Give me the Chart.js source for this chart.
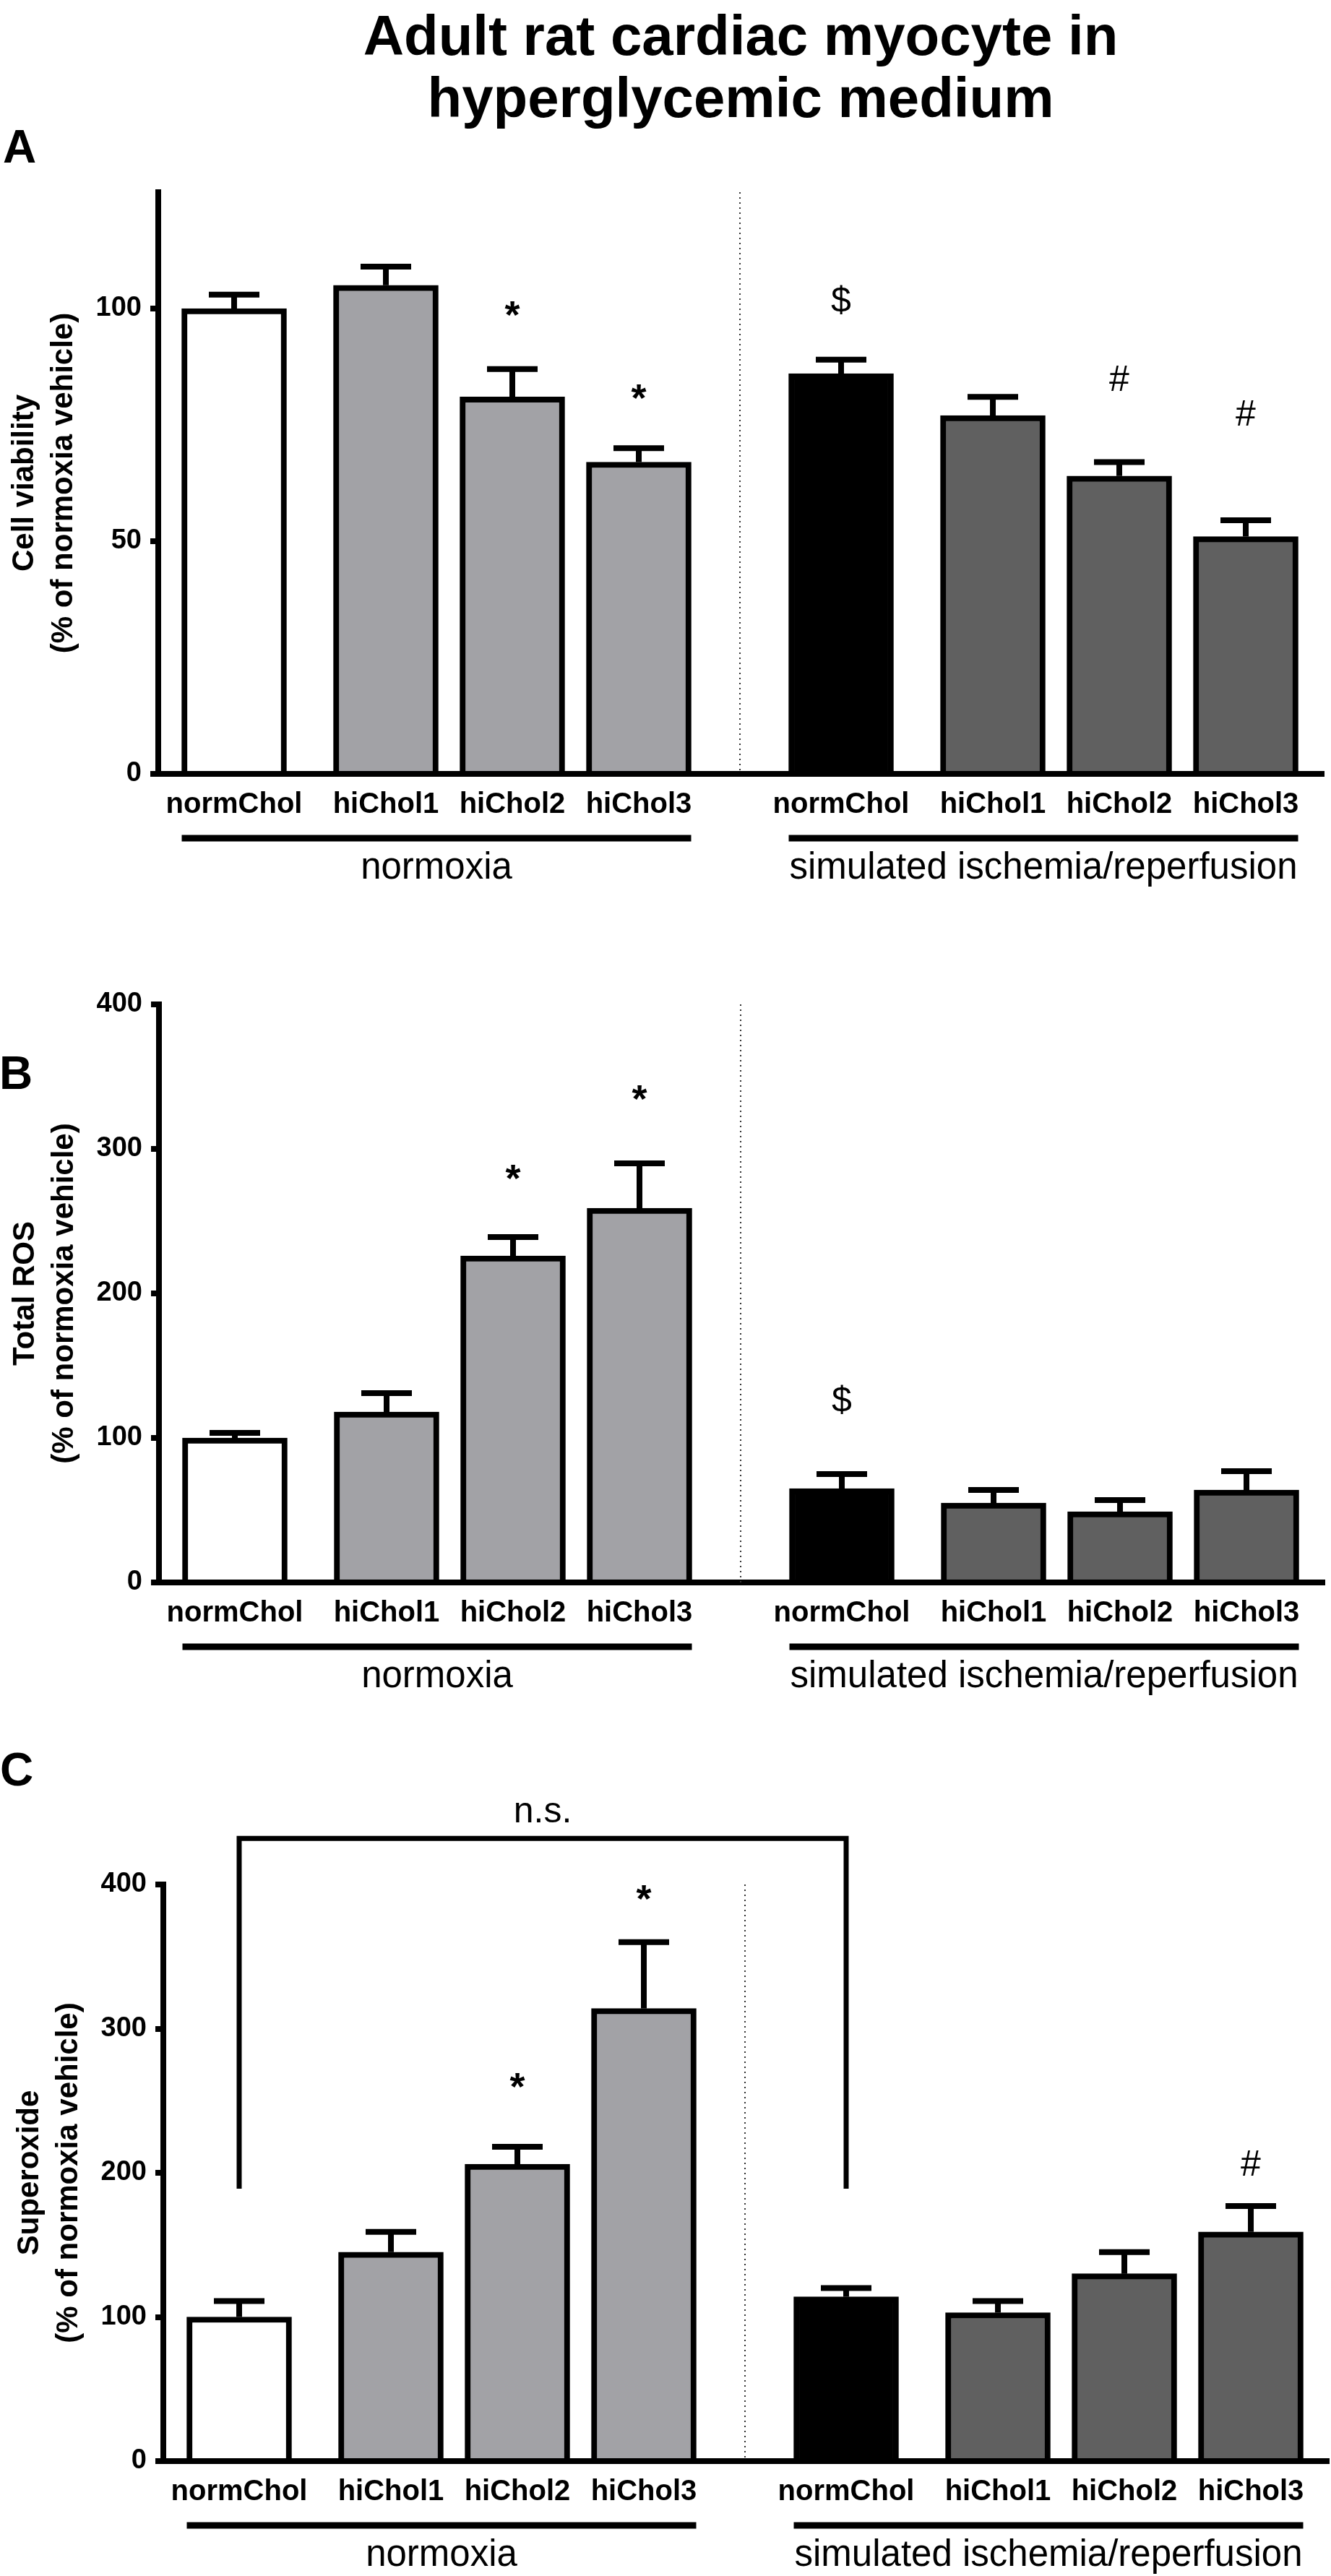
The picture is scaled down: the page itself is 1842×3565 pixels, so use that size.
<!DOCTYPE html>
<html>
<head>
<meta charset="utf-8">
<title>Adult rat cardiac myocyte in hyperglycemic medium</title>
<script src="https://cdn.jsdelivr.net/npm/chart.js@4.4.1/dist/chart.umd.min.js"></script>
<style>
  html, body { margin: 0; padding: 0; background: #fff; }
  body { width: 1842px; height: 3565px; position: relative; overflow: hidden;
         font-family: "Liberation Sans", Arial, sans-serif; color: #000; }
  .title { position: absolute; left: 25px; top: 6px; width: 2000px; text-align: center;
           font-weight: bold; font-size: 78px; line-height: 86px; }
  .letter { position: absolute; font-weight: bold; font-size: 64px; line-height: 64px; }
  .panel { position: absolute; width: 1835px; }
</style>
</head>
<body>

<div class="title">Adult rat cardiac myocyte in<br>hyperglycemic medium</div>
<div class="letter" style="left:4px;top:171px">A</div>
<div class="letter" style="left:-1px;top:1453px">B</div>
<div class="letter" style="left:0px;top:2417px">C</div>

<div class="panel" style="left:0px;top:216px;height:1013px"><canvas id="chart-a"></canvas></div>
<div class="panel" style="left:1px;top:1340px;height:1008px"><canvas id="chart-b"></canvas></div>
<div class="panel" style="left:7px;top:2458px;height:1106px"><canvas id="chart-c"></canvas></div>

<script>
// bar names, left to right
const categories = ['normChol', 'hiChol1', 'hiChol2', 'hiChol3', 'normChol', 'hiChol1', 'hiChol2', 'hiChol3'];
// the two groups under the bars
const groupNames = ['normoxia', 'simulated ischemia/reperfusion'];
const groupFirst = [0, 4];
const groupLast = [3, 7];

// A - cell viability (mean, sem)
const viabilityMean = [100, 105, 81, 67, 86, 77, 64, 51];
const viabilitySem = [3, 4, 6, 3, 3, 4, 3, 3.5];
const viabilityTicks = [0, 50, 100];
const viabilityMarks = ['', '', '*', '*', '$', '', '#', '#'];
const viabilityMarkAt = [0, 0, 100, 82, 102, 0, 85, 77.5];

// B - total ROS
const rosMean = [100, 118, 226, 259, 65, 55, 49, 64];
const rosSem = [3.5, 13, 13, 31, 10, 9, 8, 13];
const rosTicks = [0, 100, 200, 300, 400];
const rosMarks = ['', '', '*', '*', '$', '', '', ''];
const rosMarkAt = [0, 0, 284, 339, 127, 0, 0, 0];

// C - superoxide
const superoxideMean = [100, 145, 206, 314, 114, 103, 130, 159];
const superoxideSem = [11, 14, 12, 46, 6, 8, 15, 18];
const superoxideTicks = [0, 100, 200, 300, 400];
const superoxideMarks = ['', '', '*', '*', '', '', '', '#'];
const superoxideMarkAt = [0, 0, 264, 394, 0, 0, 0, 207];
// n.s. bracket between the two normChol bars
const bracketBars = [0, 4];
const bracketTop = 432;
const bracketFoot = 189;
const bracketText = 'n.s.';
const bracketTextAt = 443;


// slots on the x axis (normChol sits a bit apart from the hiChol bars)
const barSlots = [0, 1.2, 2.2, 3.2, 4.8, 6.0, 7.0, 8.0];
const dividerSlot = 4.0;
const BAR_W = 145;

const fillColors = ['#ffffff', '#a2a2a6', '#a2a2a6', '#a2a2a6', '#000000', '#606060', '#606060', '#606060'];

Chart.defaults.font.family = '"Liberation Sans", Arial, sans-serif';
Chart.defaults.color = '#000';


// draws whiskers, symbols, divider, group bars, bracket
function extrasPlugin(means, sems, marks, markAt, withBracket) {
  return {
    id: 'extras',
    afterDatasetsDraw(chart) {
      const { ctx, chartArea } = chart;
      const x = chart.scales.x, y = chart.scales.y;
      ctx.save();
      // dotted divider between the groups
      ctx.strokeStyle = '#333';
      ctx.lineWidth = 2;
      ctx.setLineDash([2, 5]);
      const dx = x.getPixelForValue(dividerSlot);
      ctx.beginPath();
      ctx.moveTo(dx, chartArea.top);
      ctx.lineTo(dx, chartArea.bottom);
      ctx.stroke();
      ctx.setLineDash([]);
      // upper error bars
      ctx.strokeStyle = '#000';
      ctx.lineWidth = 8;
      ctx.lineCap = 'butt';
      for (let i = 0; i < means.length; i++) {
        const px = x.getPixelForValue(barSlots[i]);
        const y0 = y.getPixelForValue(means[i]);
        const y1 = y.getPixelForValue(means[i] + sems[i]);
        ctx.beginPath();
        ctx.moveTo(px, y0);
        ctx.lineTo(px, y1);
        ctx.moveTo(px - 35, y1);
        ctx.lineTo(px + 35, y1);
        ctx.stroke();
      }
      ctx.restore();
    },
    afterDraw(chart) {
      const { ctx, chartArea } = chart;
      const x = chart.scales.x, y = chart.scales.y;
      ctx.save();
      ctx.fillStyle = '#000';
      ctx.strokeStyle = '#000';
      ctx.textAlign = 'center';
      ctx.textBaseline = 'alphabetic';
      // significance symbols, centred on their level
      for (let i = 0; i < marks.length; i++) {
        if (!marks[i]) continue;
        ctx.font = marks[i] === '*'
          ? 'bold 54px "Liberation Sans", Arial, sans-serif'
          : '50px "Liberation Sans", Arial, sans-serif';
        const m = ctx.measureText(marks[i]);
        const yc = y.getPixelForValue(markAt[i]);
        ctx.fillText(marks[i], x.getPixelForValue(barSlots[i]),
          yc + (m.actualBoundingBoxAscent - m.actualBoundingBoxDescent) / 2);
      }
      // group underline + name
      ctx.lineWidth = 9;
      ctx.font = '51px "Liberation Sans", Arial, sans-serif';
      for (let g = 0; g < groupNames.length; g++) {
        const x1 = x.getPixelForValue(barSlots[groupFirst[g]]) - BAR_W / 2;
        const x2 = x.getPixelForValue(barSlots[groupLast[g]]) + BAR_W / 2;
        ctx.beginPath();
        ctx.moveTo(x1, chartArea.bottom + 89);
        ctx.lineTo(x2, chartArea.bottom + 89);
        ctx.stroke();
        ctx.fillText(groupNames[g], (x1 + x2) / 2, chartArea.bottom + 145);
      }
      // n.s. bracket (panel C only)
      if (withBracket) {
        const bx1 = x.getPixelForValue(barSlots[bracketBars[0]]);
        const bx2 = x.getPixelForValue(barSlots[bracketBars[1]]);
        const by = y.getPixelForValue(bracketTop);
        const bf = y.getPixelForValue(bracketFoot);
        ctx.lineWidth = 7;
        ctx.lineJoin = 'miter';
        ctx.beginPath();
        ctx.moveTo(bx1, bf);
        ctx.lineTo(bx1, by);
        ctx.lineTo(bx2, by);
        ctx.lineTo(bx2, bf);
        ctx.stroke();
        ctx.font = '50px "Liberation Sans", Arial, sans-serif';
        ctx.fillText(bracketText, (bx1 + bx2) / 2, y.getPixelForValue(bracketTextAt));
      }
      ctx.restore();
    }
  };
}


// one panel
function makePanel(canvasId, means, sems, yMax, yTicks, yTitle, padTop, marks, markAt, withBracket) {
  const ctx = document.getElementById(canvasId).getContext('2d');
  return new Chart(ctx, {
    type: 'bar',
    data: {
      datasets: [{
        data: means.map((v, i) => ({ x: barSlots[i], y: v })),
        backgroundColor: fillColors,
        borderColor: '#000',
        borderWidth: 8,
        borderSkipped: 'start',
        barThickness: BAR_W
      }]
    },
    options: {
      responsive: true,
      maintainAspectRatio: false,
      animation: false,
      layout: { padding: { top: padTop, right: 3, bottom: 0, left: 0 } },
      plugins: {
        legend: { display: false },
        tooltip: { enabled: false }
      },
      scales: {
        x: {
          type: 'linear',
          min: -0.6,
          max: 8.617,
          offset: false,
          grid: { display: false, drawTicks: false, offset: false },
          border: { display: true, width: 8, color: '#000' },
          afterBuildTicks: (s) => { s.ticks = barSlots.map(v => ({ value: v })); },
          afterFit: (s) => { s.height = 158; s.paddingLeft = 0; s.paddingRight = 0; },
          ticks: {
            autoSkip: false,
            maxRotation: 0,
            minRotation: 0,
            padding: 23,
            font: { size: 40, weight: 'bold', lineHeight: 1 },
            callback: (v, i) => categories[i]
          }
        },
        y: {
          min: 0,
          max: yMax,
          grid: { display: true, drawOnChartArea: false, drawTicks: true, tickLength: 11, lineWidth: 8, color: '#000' },
          border: { display: true, width: 8, color: '#000' },
          afterBuildTicks: (s) => { s.ticks = yTicks.map(v => ({ value: v })); },
          afterFit: (s) => { s.width = 219; s.paddingTop = 0; s.paddingBottom = 0; },
          ticks: {
            padding: 12,
            font: { size: 38, weight: 'bold' }
          },
          title: {
            display: true,
            text: yTitle,
            font: { size: 42, weight: 'bold', lineHeight: 1.3 },
            padding: { top: 7, bottom: 0 }
          }
        }
      }
    },
    plugins: [extrasPlugin(means, sems, marks, markAt, withBracket)]
  });
}

const chartA = makePanel('chart-a', viabilityMean, viabilitySem, 125, viabilityTicks,
  ['Cell viability', '(% of normoxia vehicle)'], 50, viabilityMarks, viabilityMarkAt, false);
const chartB = makePanel('chart-b', rosMean, rosSem, 400, rosTicks,
  ['Total ROS', '(% of normoxia vehicle)'], 50, rosMarks, rosMarkAt, false);
const chartC = makePanel('chart-c', superoxideMean, superoxideSem, 400, superoxideTicks,
  ['Superoxide', '(% of normoxia vehicle)'], 150, superoxideMarks, superoxideMarkAt, true);
</script>
</body>
</html>
